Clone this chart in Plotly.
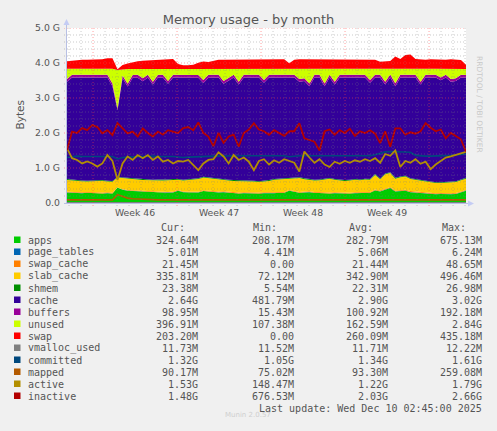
import numpy as np
import plotly.graph_objects as go

# sample times, in days from the left edge of the month view
days = np.linspace(0, 33.25, 80)

# values in G
apps = [0.30, 0.29, 0.28, 0.28, 0.29, 0.28, 0.27, 0.27, 0.28, 0.27,
        0.44, 0.38, 0.35, 0.34, 0.33, 0.32, 0.31, 0.31, 0.30, 0.30,
        0.29, 0.30, 0.35, 0.31, 0.30, 0.31, 0.30, 0.34, 0.33, 0.30,
        0.30, 0.31, 0.29, 0.28, 0.27, 0.28, 0.27, 0.28, 0.27, 0.28,
        0.27, 0.28, 0.29, 0.29, 0.35, 0.31, 0.29, 0.30, 0.31, 0.29,
        0.28, 0.28, 0.27, 0.28, 0.27, 0.28, 0.27, 0.28, 0.28, 0.28,
        0.29, 0.36, 0.33, 0.38, 0.43, 0.33, 0.34, 0.35, 0.31, 0.30,
        0.28, 0.26, 0.25, 0.25, 0.26, 0.25, 0.25, 0.26, 0.30, 0.35]
page_tables = [0.005, 0.005, 0.005, 0.005, 0.005, 0.005, 0.005, 0.005, 0.005, 0.005,
               0.004, 0.005, 0.005, 0.005, 0.005, 0.005, 0.005, 0.005, 0.005, 0.005,
               0.005, 0.005, 0.005, 0.005, 0.005, 0.005, 0.005, 0.005, 0.005, 0.005,
               0.005, 0.005, 0.005, 0.005, 0.005, 0.005, 0.005, 0.005, 0.005, 0.005,
               0.005, 0.005, 0.005, 0.005, 0.005, 0.005, 0.005, 0.005, 0.005, 0.005,
               0.005, 0.005, 0.005, 0.005, 0.005, 0.005, 0.005, 0.005, 0.005, 0.005,
               0.005, 0.006, 0.005, 0.006, 0.006, 0.005, 0.005, 0.005, 0.005, 0.005,
               0.005, 0.005, 0.005, 0.005, 0.005, 0.005, 0.005, 0.005, 0.005, 0.005]
swap_cache = [0.020, 0.020, 0.021, 0.021, 0.022, 0.022, 0.022, 0.023, 0.024, 0.024,
              0.002, 0.010, 0.014, 0.017, 0.019, 0.020, 0.021, 0.021, 0.022, 0.022,
              0.022, 0.023, 0.016, 0.014, 0.015, 0.016, 0.018, 0.020, 0.020, 0.021,
              0.021, 0.022, 0.022, 0.022, 0.022, 0.023, 0.023, 0.023, 0.023, 0.023,
              0.022, 0.022, 0.022, 0.022, 0.018, 0.021, 0.022, 0.022, 0.022, 0.022,
              0.022, 0.022, 0.022, 0.022, 0.022, 0.022, 0.021, 0.022, 0.021, 0.022,
              0.022, 0.022, 0.020, 0.020, 0.024, 0.025, 0.023, 0.026, 0.027, 0.023,
              0.022, 0.022, 0.022, 0.022, 0.022, 0.022, 0.022, 0.022, 0.021, 0.015]
slab_cache = [0.335, 0.325, 0.315, 0.315, 0.295, 0.315, 0.325, 0.335, 0.305, 0.305,
              0.285, 0.315, 0.325, 0.325, 0.315, 0.315, 0.315, 0.305, 0.325, 0.315,
              0.335, 0.335, 0.295, 0.315, 0.335, 0.345, 0.365, 0.365, 0.355, 0.355,
              0.345, 0.315, 0.325, 0.325, 0.335, 0.315, 0.315, 0.305, 0.305, 0.305,
              0.335, 0.355, 0.355, 0.375, 0.325, 0.355, 0.395, 0.355, 0.325, 0.325,
              0.345, 0.375, 0.395, 0.355, 0.345, 0.325, 0.345, 0.355, 0.345, 0.365,
              0.345, 0.415, 0.325, 0.415, 0.395, 0.335, 0.365, 0.375, 0.345, 0.335,
              0.335, 0.335, 0.305, 0.295, 0.285, 0.305, 0.305, 0.315, 0.325, 0.325]
shmem = [0.023, 0.023, 0.023, 0.023, 0.023, 0.023, 0.023, 0.023, 0.023, 0.023,
         0.012, 0.020, 0.022, 0.022, 0.022, 0.022, 0.022, 0.022, 0.022, 0.022,
         0.022, 0.022, 0.022, 0.022, 0.022, 0.022, 0.022, 0.022, 0.022, 0.022,
         0.022, 0.022, 0.022, 0.022, 0.022, 0.022, 0.022, 0.022, 0.022, 0.022,
         0.022, 0.022, 0.022, 0.022, 0.022, 0.022, 0.022, 0.022, 0.022, 0.022,
         0.022, 0.022, 0.022, 0.022, 0.022, 0.022, 0.022, 0.022, 0.022, 0.022,
         0.023, 0.023, 0.023, 0.023, 0.023, 0.023, 0.023, 0.023, 0.023, 0.023,
         0.023, 0.023, 0.023, 0.023, 0.023, 0.023, 0.023, 0.023, 0.023, 0.023]
cache = [2.78, 2.92, 2.94, 2.94, 2.95, 2.94, 2.94, 2.93, 2.95, 2.71,
         1.91, 2.84, 2.61, 2.87, 2.89, 2.80, 2.91, 2.72, 2.91, 2.92,
         2.73, 2.90, 2.89, 2.91, 2.90, 2.88, 2.87, 2.68, 2.85, 2.88,
         2.89, 2.73, 2.82, 2.93, 2.73, 2.94, 2.95, 2.95, 2.96, 2.80,
         2.93, 2.90, 2.89, 2.87, 2.86, 2.87, 2.73, 2.78, 2.65, 2.92,
         2.91, 2.63, 2.87, 2.70, 2.92, 2.93, 2.92, 2.90, 2.91, 2.89,
         2.75, 2.76, 2.88, 2.54, 2.71, 2.62, 2.83, 2.81, 2.88, 2.90,
         2.72, 2.94, 2.98, 2.99, 2.91, 2.98, 2.86, 2.86, 2.91, 2.86]
buffers = [0.08, 0.08, 0.08, 0.08, 0.08, 0.08, 0.08, 0.08, 0.08, 0.08,
           0.05, 0.07, 0.08, 0.08, 0.08, 0.08, 0.08, 0.08, 0.08, 0.08,
           0.08, 0.08, 0.08, 0.08, 0.08, 0.08, 0.08, 0.08, 0.08, 0.08,
           0.08, 0.08, 0.08, 0.08, 0.08, 0.08, 0.08, 0.08, 0.08, 0.08,
           0.08, 0.08, 0.08, 0.08, 0.08, 0.08, 0.08, 0.08, 0.08, 0.08,
           0.08, 0.08, 0.08, 0.08, 0.08, 0.08, 0.08, 0.08, 0.08, 0.08,
           0.08, 0.08, 0.08, 0.08, 0.08, 0.08, 0.08, 0.08, 0.08, 0.08,
           0.08, 0.08, 0.08, 0.08, 0.08, 0.08, 0.08, 0.08, 0.08, 0.08]
unused = [0.29, 0.17, 0.17, 0.17, 0.17, 0.17, 0.17, 0.17, 0.17, 0.42,
          1.10, 0.18, 0.42, 0.17, 0.17, 0.27, 0.17, 0.37, 0.17, 0.17,
          0.35, 0.17, 0.17, 0.17, 0.17, 0.17, 0.17, 0.32, 0.17, 0.17,
          0.17, 0.35, 0.27, 0.17, 0.37, 0.17, 0.17, 0.17, 0.17, 0.32,
          0.17, 0.17, 0.17, 0.17, 0.17, 0.17, 0.29, 0.27, 0.42, 0.17,
          0.17, 0.42, 0.17, 0.37, 0.17, 0.17, 0.17, 0.17, 0.17, 0.17,
          0.32, 0.17, 0.17, 0.37, 0.17, 0.42, 0.17, 0.17, 0.17, 0.17,
          0.37, 0.17, 0.17, 0.17, 0.25, 0.17, 0.29, 0.27, 0.17, 0.17]
swap = [0.22, 0.24, 0.25, 0.26, 0.26, 0.26, 0.26, 0.27, 0.30, 0.30,
        0.02, 0.12, 0.16, 0.20, 0.22, 0.23, 0.24, 0.25, 0.26, 0.26,
        0.27, 0.28, 0.14, 0.11, 0.11, 0.12, 0.18, 0.21, 0.20, 0.24,
        0.26, 0.26, 0.26, 0.27, 0.26, 0.28, 0.28, 0.28, 0.28, 0.28,
        0.27, 0.28, 0.27, 0.27, 0.16, 0.26, 0.27, 0.27, 0.27, 0.26,
        0.27, 0.28, 0.27, 0.28, 0.27, 0.27, 0.26, 0.27, 0.26, 0.27,
        0.27, 0.26, 0.20, 0.21, 0.22, 0.35, 0.28, 0.39, 0.40, 0.28,
        0.27, 0.26, 0.27, 0.26, 0.27, 0.26, 0.27, 0.26, 0.25, 0.12]
vmalloc_used = [0.0117] * 80
committed = [1.30, 1.33, 1.34, 1.33, 1.33, 1.34, 1.33, 1.33, 1.34, 1.33,
             1.26, 1.30, 1.31, 1.32, 1.33, 1.33, 1.34, 1.34, 1.33, 1.34,
             1.33, 1.33, 1.31, 1.30, 1.31, 1.32, 1.32, 1.33, 1.34, 1.34,
             1.34, 1.35, 1.35, 1.35, 1.35, 1.35, 1.35, 1.35, 1.34, 1.34,
             1.34, 1.34, 1.34, 1.35, 1.32, 1.34, 1.35, 1.35, 1.35, 1.35,
             1.34, 1.34, 1.34, 1.35, 1.35, 1.35, 1.34, 1.34, 1.34, 1.35,
             1.35, 1.38, 1.42, 1.46, 1.47, 1.47, 1.47, 1.46, 1.45, 1.36,
             1.34, 1.34, 1.34, 1.34, 1.35, 1.35, 1.36, 1.37, 1.38, 1.40]
mapped = [0.09, 0.09, 0.09, 0.09, 0.09, 0.09, 0.09, 0.09, 0.09, 0.09,
          0.24, 0.18, 0.14, 0.12, 0.11, 0.10, 0.10, 0.10, 0.09, 0.09,
          0.09, 0.09, 0.09, 0.09, 0.09, 0.09, 0.09, 0.09, 0.09, 0.09,
          0.09, 0.09, 0.09, 0.09, 0.09, 0.09, 0.09, 0.09, 0.09, 0.09,
          0.09, 0.09, 0.09, 0.09, 0.10, 0.09, 0.09, 0.09, 0.09, 0.09,
          0.09, 0.09, 0.09, 0.09, 0.09, 0.09, 0.09, 0.09, 0.09, 0.09,
          0.09, 0.10, 0.09, 0.10, 0.10, 0.09, 0.09, 0.10, 0.09, 0.09,
          0.09, 0.09, 0.09, 0.09, 0.09, 0.09, 0.09, 0.09, 0.09, 0.09]
active = [1.56, 1.28, 1.23, 1.13, 1.19, 1.13, 1.04, 1.13, 1.37, 1.20,
          0.66, 1.13, 1.33, 1.23, 1.37, 1.28, 1.37, 1.23, 1.33, 1.18,
          1.23, 1.13, 1.20, 1.18, 1.23, 1.08, 0.94, 1.13, 1.23, 1.25,
          1.45, 1.33, 1.13, 1.37, 1.23, 1.30, 1.18, 0.94, 1.20, 1.25,
          1.10, 1.22, 1.15, 1.25, 1.20, 1.15, 0.90, 1.47, 1.30, 1.15,
          1.25, 1.10, 1.03, 1.18, 1.12, 1.20, 1.15, 1.22, 1.18, 1.25,
          1.20, 1.28, 1.15, 1.40, 1.35, 1.50, 1.03, 1.20, 1.15, 1.25,
          1.12, 1.18, 0.97, 1.10, 1.20, 1.30, 1.33, 1.38, 1.42, 1.46]
inactive = [1.51, 2.04, 2.00, 2.14, 2.08, 2.23, 2.17, 1.99, 2.08, 1.94,
            2.28, 2.13, 1.99, 2.04, 1.90, 2.13, 2.00, 1.90, 2.04, 1.95,
            2.08, 2.04, 2.00, 2.14, 2.17, 2.08, 2.30, 2.00, 1.90, 1.62,
            2.00, 1.72, 1.90, 1.95, 1.61, 2.00, 2.10, 2.28, 2.10, 2.05,
            1.95, 2.08, 2.00, 1.92, 2.05, 2.05, 2.28, 1.85, 1.80, 1.75,
            1.50, 2.05, 2.10, 1.95, 2.08, 2.00, 2.12, 1.92, 2.05, 2.00,
            2.08, 1.98, 1.71, 2.05, 1.61, 2.13, 2.13, 1.95, 2.02, 1.98,
            2.05, 2.28, 2.15, 2.05, 2.10, 1.85, 2.00, 1.90, 1.82, 1.46]

week_label_days = [5.67, 12.67, 19.67, 26.67]
week_labels = ["Week 46", "Week 47", "Week 48", "Week 49"]
y_tick_vals = [0, 1, 2, 3, 4, 5]
y_tick_text = ["0.0", "1.0 G", "2.0 G", "3.0 G", "4.0 G", "5.0 G"]

legend_names = ["apps", "page_tables", "swap_cache", "slab_cache", "shmem", "cache",
                "buffers", "unused", "swap", "vmalloc_used", "committed", "mapped",
                "active", "inactive"]
legend_colors = ["#00CC00", "#0066B3", "#FF8000", "#FFCC00", "#008F00", "#330099",
                 "#990099", "#CCFF00", "#FF0000", "#808080", "#00487D", "#B35A00",
                 "#B38F00", "#B30000"]
cur_vals = ["324.64M", "5.01M", "21.45M", "335.81M", "23.38M", "2.64G", "98.95M",
            "396.91M", "203.20M", "11.73M", "1.32G", "90.17M", "1.53G", "1.48G"]
min_vals = ["208.17M", "4.41M", "0.00", "72.12M", "5.54M", "481.79M", "15.43M",
            "107.38M", "0.00", "11.52M", "1.05G", "75.02M", "148.47M", "676.53M"]
avg_vals = ["282.79M", "5.06M", "21.44M", "342.90M", "22.31M", "2.90G", "100.92M",
            "162.59M", "260.09M", "11.71M", "1.34G", "93.30M", "1.22G", "2.03G"]
max_vals = ["675.13M", "6.24M", "48.65M", "496.46M", "26.98M", "3.02G", "192.18M",
            "2.84G", "435.18M", "12.22M", "1.61G", "259.08M", "1.79G", "2.66G"]

W, H = 497, 431
ML, MR, MT, MB = 67, 31, 28, 228
PW, PH = W - ML - MR, H - MT - MB
TXT = "#555555"
MONO = "DejaVu Sans Mono"


def px(x):
    return (x - ML) / PW


def py(y):
    return (H - MB - y) / PH


fig = go.Figure()

stacked = [("apps", apps), ("page_tables", page_tables), ("swap_cache", swap_cache),
           ("slab_cache", slab_cache), ("shmem", shmem), ("cache", cache),
           ("buffers", buffers), ("unused", unused), ("swap", swap)]
for (name, vals), col in zip(stacked, legend_colors[:9]):
    fig.add_trace(go.Scatter(x=days, y=vals, name=name, mode="lines", stackgroup="mem",
                             line=dict(width=0, color=col), fillcolor=col))

lines = [("vmalloc_used", vmalloc_used, 1.2), ("committed", committed, 1.6),
         ("mapped", mapped, 1.6), ("active", active, 1.8), ("inactive", inactive, 1.8)]
for (name, vals, w), col in zip(lines, legend_colors[9:]):
    fig.add_trace(go.Scatter(x=days, y=vals, name=name, mode="lines",
                             line=dict(width=w, color=col)))

# rrdtool-style dotted grid, drawn over the data
minor_c = "rgba(128,128,128,0.4)"
major_c = "rgba(255,70,70,0.5)"
shapes = []
for k in range(1, 26):
    c = major_c if k % 5 == 0 else minor_c
    shapes.append(dict(type="line", xref="paper", yref="y", x0=-3 / PW, x1=1,
                       y0=k * 0.2, y1=k * 0.2, layer="above",
                       line=dict(color=c, width=1, dash="1px,2px")))
for d in range(34):
    xv = 0.17 + d
    c = major_c if (d - 2) % 7 == 0 else minor_c
    shapes.append(dict(type="line", xref="x", yref="paper", x0=xv, x1=xv,
                       y0=-3 / PH, y1=1, layer="above",
                       line=dict(color=c, width=1, dash="1px,2px")))

# axes with arrows
ax_c = "#B8C0E4"
shapes.append(dict(type="line", xref="paper", yref="paper", x0=px(66.5), x1=px(66.5),
                   y0=py(204), y1=py(22), line=dict(color=ax_c, width=1)))
shapes.append(dict(type="line", xref="paper", yref="paper", x0=px(64), x1=px(470),
                   y0=py(203.5), y1=py(203.5), line=dict(color=ax_c, width=1)))
shapes.append(dict(type="path", xref="paper", yref="paper",
                   path=f"M {px(63.5)} {py(25)} L {px(69.5)} {py(25)} L {px(66.5)} {py(19)} Z",
                   fillcolor="#C4CCF4", line=dict(width=0)))
shapes.append(dict(type="path", xref="paper", yref="paper",
                   path=f"M {px(468)} {py(200.5)} L {px(468)} {py(206.5)} L {px(474)} {py(203.5)} Z",
                   fillcolor="#C4CCF4", line=dict(width=0)))

annotations = []
# legend table
row0 = 240
for i, name in enumerate(legend_names):
    yy = row0 + 12 * i
    shapes.append(dict(type="rect", xref="paper", yref="paper",
                       x0=px(14), x1=px(20.5), y0=py(yy + 3), y1=py(yy - 3.5),
                       fillcolor=legend_colors[i], line=dict(width=0)))
    annotations.append(dict(x=px(26), y=py(yy), text=name, xanchor="left"))
    for xr, vals in [(200, cur_vals), (296, min_vals), (390, avg_vals), (484, max_vals)]:
        annotations.append(dict(x=px(xr), y=py(yy), text=vals[i], xanchor="right"))
for xr, h in [(187, "Cur:"), (279, "Min:"), (375, "Avg:"), (468, "Max:")]:
    annotations.append(dict(x=px(xr), y=py(227), text=h, xanchor="right"))
annotations.append(dict(x=px(484), y=py(408), text="Last update: Wed Dec 10 02:45:00 2025",
                        xanchor="right"))
for a in annotations:
    a.update(xref="paper", yref="paper", yanchor="middle", showarrow=False,
             font=dict(family=MONO, size=10, color=TXT))

annotations.append(dict(x=px(11), y=py(115.5), xref="paper", yref="paper", text="Bytes",
                        textangle=-90, showarrow=False,
                        font=dict(family="DejaVu Sans", size=10.5, color=TXT)))
annotations.append(dict(x=px(486), y=py(54), xref="paper", yref="paper",
                        text="RRDTOOL / TOBI OETIKER", textangle=90, showarrow=False,
                        font=dict(family="DejaVu Sans", size=7.5, color="#C8C8C8")))
annotations.append(dict(x=px(248), y=py(421), xref="paper", yref="paper",
                        text="Munin 2.0.57", showarrow=False,
                        font=dict(family="DejaVu Sans", size=7, color="#CFCFCF")))

fig.update_layout(
    width=W, height=H,
    margin=dict(l=ML, r=MR, t=MT, b=MB),
    paper_bgcolor="#F0F0F0",
    plot_bgcolor="#FFFFFF",
    showlegend=False,
    title=dict(text="Memory usage - by month", x=0.5, xref="container", xanchor="center",
               y=1 - 19 / H, yanchor="middle",
               font=dict(family="DejaVu Sans", size=13, color=TXT)),
    xaxis=dict(range=[0, 33.25], tickvals=week_label_days, ticktext=week_labels,
               showgrid=False, zeroline=False, ticks="", ticklabelstandoff=3,
               tickfont=dict(family="DejaVu Sans", size=9.3, color=TXT)),
    yaxis=dict(range=[0, 5], tickvals=y_tick_vals, ticktext=y_tick_text,
               showgrid=False, zeroline=False, ticks="", ticklabelstandoff=6,
               tickfont=dict(family="DejaVu Sans", size=9.3, color=TXT)),
    shapes=shapes,
    annotations=annotations,
)

# page margin off so the 497x431 figure fills the window exactly
fig.write_html("out.html", config={"displayModeBar": False},
               post_script="document.body.style.margin='0';")
